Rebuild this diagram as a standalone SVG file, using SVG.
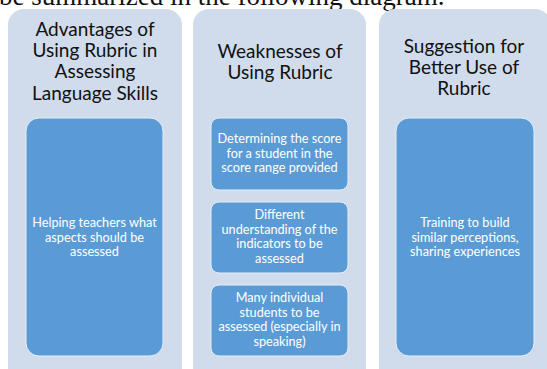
<svg xmlns="http://www.w3.org/2000/svg" width="547" height="369" viewBox="0 0 547 369">
<style>
.outer{fill:#D0DBEC}
.inner{fill:#5B9BD5;stroke:#E6EEF8;stroke-width:1}
.hdr{font-family:Lato,"Open Sans","DejaVu Sans",sans-serif;font-size:19px;fill:#111111;text-anchor:middle}
.txt{font-family:Lato,"Open Sans","DejaVu Sans",sans-serif;font-size:12.7px;fill:#FFFFFF;text-anchor:middle}
.top{font-family:"Liberation Serif","Times New Roman",serif;font-size:27px;fill:#111111}
</style>
<rect width="547" height="369" fill="#FFFFFF"/>
<text class="top" x="-1" y="5">be summarized in the following diagram.</text>

<g id="col-advantages">
  <rect class="outer" x="8" y="9" width="174" height="375" rx="16"/>
  <text class="hdr"><tspan x="95" y="36">Advantages of</tspan><tspan x="95" y="57">Using Rubric in</tspan><tspan x="95" y="78">Assessing</tspan><tspan x="95" y="100">Language Skills</tspan></text>
</g>
<g id="adv-1">
  <rect class="inner" x="26" y="118" width="137" height="238" rx="13"/>
  <text class="txt"><tspan x="94.5" y="227">Helping teachers what</tspan><tspan x="94.5" y="241.5">aspects should be</tspan><tspan x="94.5" y="256">assessed</tspan></text>
</g>

<g id="col-weaknesses">
  <rect class="outer" x="193" y="9" width="173" height="375" rx="16"/>
  <text class="hdr"><tspan x="280" y="58">Weaknesses of</tspan><tspan x="280" y="79">Using Rubric</tspan></text>
</g>
<g id="weak-1">
  <rect class="inner" x="211" y="118" width="137" height="72" rx="8"/>
  <text class="txt"><tspan x="279.5" y="143">Determining the score</tspan><tspan x="279.5" y="157.5">for a student in the</tspan><tspan x="279.5" y="172">score range provided</tspan></text>
</g>
<g id="weak-2">
  <rect class="inner" x="211" y="202" width="137" height="71" rx="8"/>
  <text class="txt"><tspan x="279.5" y="219">Different</tspan><tspan x="279.5" y="233.5">understanding of the</tspan><tspan x="279.5" y="248">indicators to be</tspan><tspan x="279.5" y="262.5">assessed</tspan></text>
</g>
<g id="weak-3">
  <rect class="inner" x="211" y="285" width="137" height="71" rx="8"/>
  <text class="txt"><tspan x="279.5" y="302">Many individual</tspan><tspan x="279.5" y="316.5">students to be</tspan><tspan x="279.5" y="331">assessed (especially in</tspan><tspan x="279.5" y="345.5">speaking)</tspan></text>
</g>

<g id="col-suggestion">
  <rect class="outer" x="379" y="9" width="172" height="375" rx="16"/>
  <text class="hdr"><tspan x="464" y="53">Suggestion for</tspan><tspan x="464" y="74">Better Use of</tspan><tspan x="464" y="95">Rubric</tspan></text>
</g>
<g id="sug-1">
  <rect class="inner" x="396" y="118" width="138" height="238" rx="13"/>
  <text class="txt"><tspan x="465" y="227">Training to build</tspan><tspan x="465" y="241.5">similar perceptions,</tspan><tspan x="465" y="256">sharing experiences</tspan></text>
</g>
<g id="connectors"></g>
</svg>
